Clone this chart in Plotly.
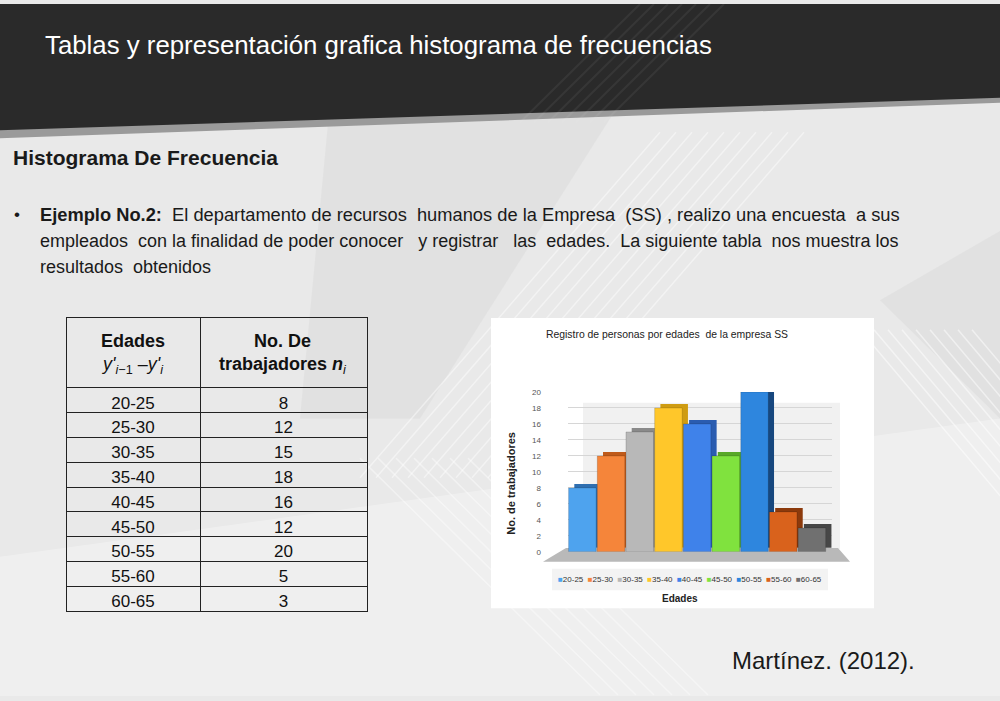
import plotly.graph_objects as go

# ---------------- data ----------------
edades = ["20-25", "25-30", "30-35", "35-40", "40-45", "45-50", "50-55", "55-60", "60-65"]
trabajadores = [8, 12, 15, 18, 16, 12, 20, 5, 3]
y_ticks = [0, 2, 4, 6, 8, 10, 12, 14, 16, 18, 20]
table_headers = [
    "<b>Edades</b><br><i>y'</i><sub><i>i</i>−1</sub> –<i>y'</i><sub><i>i</i></sub>",
    "<b>No. De</b><br><b>trabajadores</b> <b><i>n</i></b><sub><i>i</i></sub>",
]

front_colors = ["#4ea3ee", "#f5853a", "#b8b8b8", "#ffc72a", "#3f82ea", "#80e23e", "#2e86de", "#d9621c", "#707070"]
side_colors = ["#2f6fb0", "#bf5a1a", "#8a8a8a", "#cf9c12", "#2a5cb0", "#58a828", "#17477e", "#8c3a0c", "#474747"]

W, H = 1000, 701


def X(x):
    return x / W


def Y(y):
    return 1 - y / H


fig = go.Figure()

# ---------------- table ----------------
fig.add_trace(go.Table(
    domain=dict(x=[X(66), X(367)], y=[Y(624), Y(318)]),
    columnwidth=[134, 167],
    header=dict(values=["", ""], height=70, align="center",
                fill_color="rgba(0,0,0,0)", line=dict(color="#222222", width=1),
                font=dict(family="Liberation Sans, Arial", size=18, color="#111111")),
    cells=dict(values=[edades, trabajadores], height=24.8, align="center",
               fill_color="rgba(0,0,0,0)", line=dict(color="#222222", width=1),
               font=dict(family="Liberation Sans, Arial", size=17, color="#111111")),
))

# ---------------- bars (pseudo 3D) ----------------
fig.add_trace(go.Bar(
    x=edades, y=trabajadores, base=0.5, width=0.96, offset=-0.48 + 0.2,
    marker=dict(color=side_colors, line=dict(width=0)),
    showlegend=False, hoverinfo="skip",
))
fig.add_trace(go.Bar(
    x=edades, y=trabajadores, width=0.96, offset=-0.48,
    marker=dict(color=front_colors, line=dict(color="rgba(0,0,0,0.25)", width=0.6)),
    showlegend=False,
))

# legend text built from categories
legend_txt = "&nbsp;&nbsp;".join(
    f"<span style='color:{c}'>■</span>{e}" for e, c in zip(edades, front_colors)
)

shapes = []
# background gradient patches
shapes.append(dict(type="rect", xref="paper", yref="paper", x0=0, x1=1, y0=0, y1=1,
                   fillcolor="#e9e9e9", line_width=0, layer="below"))
shapes.append(dict(type="path", xref="paper", yref="paper",
                   path=f"M {X(330)},{Y(100)} L {X(620)},{Y(100)} L {X(420)},{Y(420)} L {X(300)},{Y(420)} Z",
                   fillcolor="rgba(205,205,205,0.25)", line_width=0, layer="below"))
shapes.append(dict(type="path", xref="paper", yref="paper",
                   path=f"M {X(0)},{Y(560)} L {X(1000)},{Y(420)} L {X(1000)},{Y(701)} L {X(0)},{Y(701)} Z",
                   fillcolor="rgba(255,255,255,0.3)", line_width=0, layer="below"))
shapes.append(dict(type="path", xref="paper", yref="paper",
                   path=f"M {X(880)},{Y(300)} L {X(1000)},{Y(230)} L {X(1000)},{Y(420)} Z",
                   fillcolor="rgba(205,205,205,0.25)", line_width=0, layer="below"))
# stripes "/"
for k in range(10):
    x0 = 360 + k * 16
    shapes.append(dict(type="line", xref="paper", yref="paper",
                       x0=X(x0), y0=Y(480), x1=X(x0 + 300), y1=Y(130),
                       line=dict(color="rgba(255,255,255,0.45)", width=1.5), layer="below"))
# stripes "\"
for k in range(9):
    x0 = 860 + k * 14
    shapes.append(dict(type="line", xref="paper", yref="paper",
                       x0=X(x0), y0=Y(330), x1=X(x0 + 300), y1=Y(690),
                       line=dict(color="rgba(255,255,255,0.5)", width=1.5), layer="below"))
for k in range(7):
    x0 = 360 + k * 18
    shapes.append(dict(type="line", xref="paper", yref="paper",
                       x0=X(x0), y0=Y(460), x1=X(x0 + 240), y1=Y(700),
                       line=dict(color="rgba(255,255,255,0.4)", width=1.5), layer="below"))
# dark header band
shapes.append(dict(type="path", xref="paper", yref="paper",
                   path=f"M 0,1 L 1,1 L 1,{Y(100)} L 0,{Y(136)} Z",
                   fillcolor="#9a9a9a", line_width=0, layer="below"))
shapes.append(dict(type="path", xref="paper", yref="paper",
                   path=f"M 0,1 L 1,1 L 1,{Y(95)} L 0,{Y(128)} Z",
                   fillcolor="#2a2a2a", line_width=0, layer="below"))
for k in range(7):
    x0 = 520 + k * 14
    shapes.append(dict(type="line", xref="paper", yref="paper",
                       x0=X(x0), y0=Y(120), x1=X(x0 + 120), y1=Y(0),
                       line=dict(color="rgba(255,255,255,0.06)", width=2), layer="below"))
# chart panel
shapes.append(dict(type="rect", xref="paper", yref="paper",
                   x0=X(491), x1=X(874), y0=Y(612), y1=Y(318),
                   fillcolor="white", line_width=0, layer="below"))
# back wall
shapes.append(dict(type="rect", xref="paper", yref="paper",
                   x0=X(583), x1=X(840), y0=Y(552), y1=Y(404),
                   fillcolor="#f1f1f1", line_width=0, layer="below"))
# floor
shapes.append(dict(type="path", xref="paper", yref="paper",
                   path=f"M {X(543)},{Y(565)} L {X(850)},{Y(565)} L {X(838)},{Y(551)} L {X(566)},{Y(551)} Z",
                   fillcolor="#b9b9b9", line_width=0, layer="below"))
# legend background
shapes.append(dict(type="rect", xref="paper", yref="paper",
                   x0=X(552), x1=X(828), y0=Y(594), y1=Y(572),
                   fillcolor="#f3f3f3", line_width=0, layer="below"))

SANS = "Liberation Sans, Arial"


def ann(text, x, y, size, family=SANS, color="#1a1a1a", xanchor="left", angle=0):
    return dict(text=text, x=X(x), y=Y(y), xref="paper", yref="paper",
                xanchor=xanchor, yanchor="middle", showarrow=False, align="center",
                textangle=angle, font=dict(family=family, size=size, color=color))


annotations = [
    ann("Tablas y representación grafica histograma de frecuencias", 43, 42, 25.8, color="white"),
    ann("<b>Histograma De Frecuencia</b>", 11, 155, 21),
    ann("•", 12, 213, 17),
    ann("<b>Ejemplo No.2:</b>  El departamento de recursos  humanos de la Empresa  (SS) , realizo una encuesta  a sus",
        38, 213, 18.3),
    ann("empleados  con la finalidad de poder conocer   y registrar   las  edades.  La siguiente tabla  nos muestra los",
        38, 240, 18),
    ann("resultados  obtenidos", 38, 266, 18),
    ann("Martínez. (2012).", 730, 665, 24),
    ann(table_headers[0], 133, 355, 18, color="#111111", xanchor="center"),
    ann(table_headers[1], 283, 355, 18, color="#111111", xanchor="center"),
    ann("Registro de personas por edades  de la empresa SS", 667, 335, 10.4,
        color="#222222", xanchor="center"),
    ann(legend_txt, 690, 583, 8, color="#333333", xanchor="center"),
    ann("<b>No. de trabajadores</b>", 511, 486, 11, color="#222222", xanchor="center", angle=-90),
    ann("<b>Edades</b>", 680, 602, 10, color="#222222", xanchor="center"),
]

fig.update_layout(
    width=W, height=H,
    margin=dict(l=0, r=0, t=0, b=0),
    paper_bgcolor="#e9e9e9",
    plot_bgcolor="rgba(0,0,0,0)",
    barmode="overlay",
    showlegend=False,
    shapes=shapes,
    annotations=annotations,
    xaxis=dict(domain=[X(568), X(832)], range=[-0.5, 8.7], showticklabels=False,
               showgrid=False, zeroline=False, showline=False, ticks=""),
    yaxis=dict(domain=[Y(555), Y(393)], range=[0, 20], tickvals=y_ticks,
               showgrid=True, gridcolor="#d6d6d6", gridwidth=1, zeroline=False,
               ticklabelstandoff=26,
               tickfont=dict(family=SANS, size=8, color="#555")),
)

fig.write_html("out.html")
